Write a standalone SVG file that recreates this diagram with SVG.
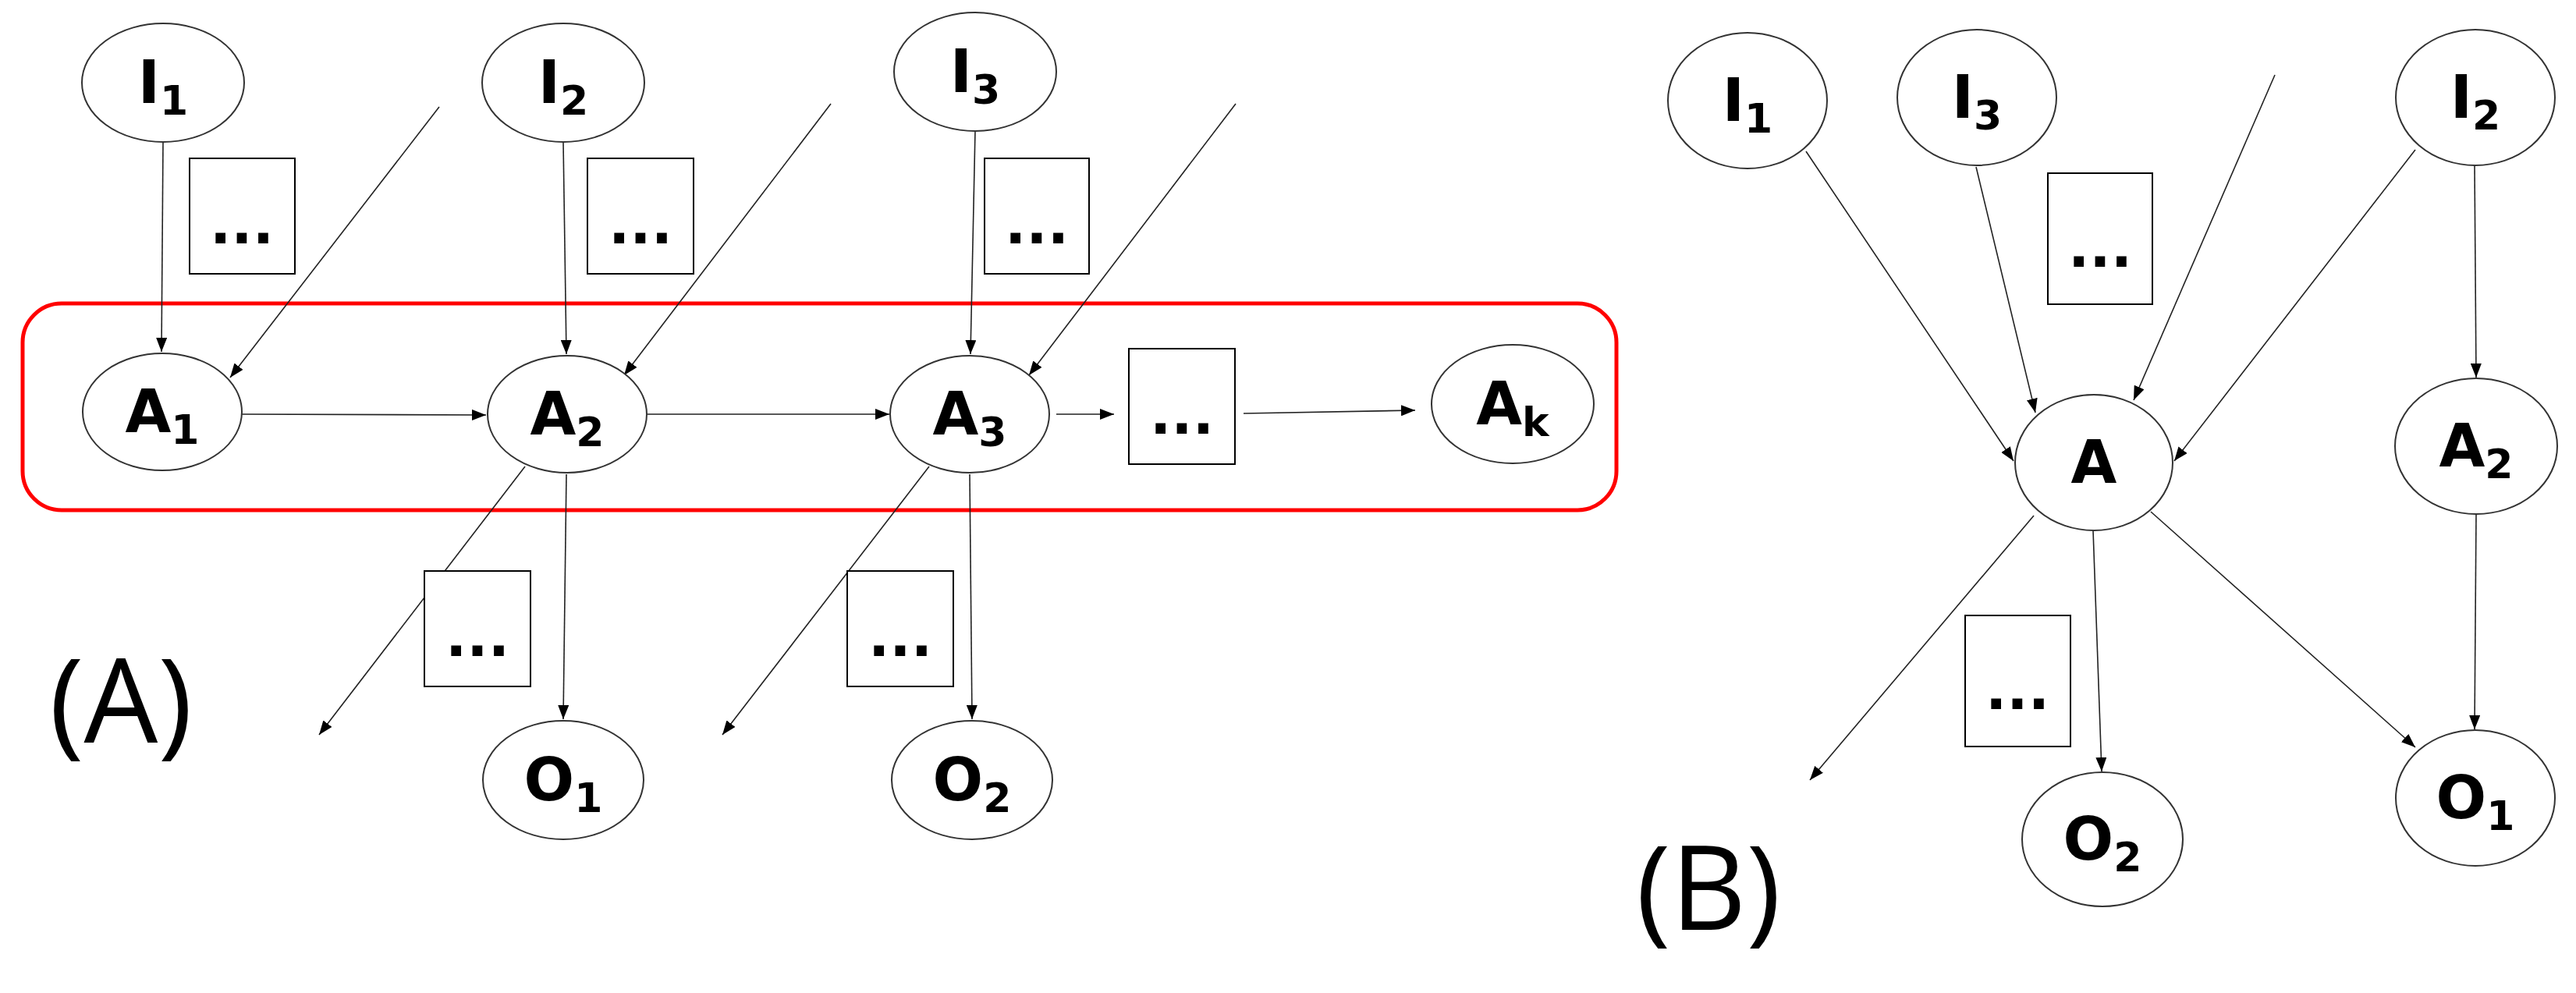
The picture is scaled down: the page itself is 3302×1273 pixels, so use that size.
<svg xmlns="http://www.w3.org/2000/svg" width="3302" height="1273" viewBox="0 0 3302 1273">
<style>
.n{fill:#fff;stroke:#333;stroke-width:2}
.b{fill:#fff;stroke:#000;stroke-width:2}
.t{font-family:"DejaVu Sans",sans-serif;font-weight:bold;font-size:76px;fill:#000}
.s{font-size:52px}
.d{font-family:"DejaVu Sans",sans-serif;font-weight:bold;font-size:72px;fill:#000}
.c line{stroke:#222;stroke-width:1.6;marker-end:url(#ah)}
.p{font-family:"Open Sans","DejaVu Sans",sans-serif;font-size:150px;fill:#000}
</style>
<defs>
<marker id="ah" markerUnits="userSpaceOnUse" markerWidth="20" markerHeight="14" refX="18" refY="7" orient="auto">
<path d="M0,0 L18,7 L0,14 z" fill="#000"/>
</marker>
</defs>
<rect x="29" y="389" width="2043" height="265" rx="50" fill="none" stroke="#f00" stroke-width="5"/>
<g class="c">
<line x1="209" y1="182" x2="207" y2="451"/>
<line x1="563" y1="137" x2="295" y2="484"/>
<line x1="722" y1="182" x2="726" y2="454"/>
<line x1="1065" y1="133" x2="800" y2="481"/>
<line x1="1250" y1="168" x2="1244" y2="454"/>
<line x1="1584" y1="133" x2="1319" y2="481"/>
<line x1="310" y1="531" x2="623" y2="532"/>
<line x1="829" y1="531" x2="1140" y2="531"/>
<line x1="1354" y1="531" x2="1428" y2="531"/>
<line x1="1594" y1="530" x2="1814" y2="526"/>
<line x1="726" y1="608" x2="722" y2="922"/>
<line x1="1243" y1="608" x2="1246" y2="922"/>
<line x1="673" y1="598" x2="409" y2="942"/>
<line x1="1191" y1="598" x2="926" y2="942"/>
<line x1="2315" y1="194" x2="2581" y2="591"/>
<line x1="2533" y1="214" x2="2609" y2="529"/>
<line x1="2916" y1="96" x2="2735" y2="513"/>
<line x1="3096" y1="192" x2="2787" y2="591"/>
<line x1="3172" y1="212" x2="3174" y2="484"/>
<line x1="3174" y1="659" x2="3172" y2="935"/>
<line x1="2683" y1="680" x2="2694" y2="989"/>
<line x1="2757" y1="656" x2="3096" y2="958"/>
<line x1="2607" y1="661" x2="2320" y2="1000"/>
</g>
<g id="boxes">
<rect class="b" x="243" y="203" width="135" height="148"/><text class="d" x="310" y="312" text-anchor="middle">...</text>
<rect class="b" x="753" y="203" width="136" height="148"/><text class="d" x="821" y="312" text-anchor="middle">...</text>
<rect class="b" x="1262" y="203" width="134" height="148"/><text class="d" x="1329" y="312" text-anchor="middle">...</text>
<rect class="b" x="1447" y="447" width="136" height="148"/><text class="d" x="1515" y="556" text-anchor="middle">...</text>
<rect class="b" x="544" y="732" width="136" height="148"/><text class="d" x="612" y="841" text-anchor="middle">...</text>
<rect class="b" x="1086" y="732" width="136" height="148"/><text class="d" x="1154" y="841" text-anchor="middle">...</text>
<rect class="b" x="2625" y="222" width="134" height="168"/><text class="d" x="2692" y="342" text-anchor="middle">...</text>
<rect class="b" x="2519" y="789" width="135" height="168"/><text class="d" x="2586" y="909" text-anchor="middle">...</text>
</g>
<g id="A_I1"><ellipse class="n" cx="209" cy="106" rx="104" ry="76"/><text class="t" x="209" y="132" text-anchor="middle">I<tspan class="s" dy="15">1</tspan></text></g>
<g id="A_I2"><ellipse class="n" cx="722" cy="106" rx="104" ry="76"/><text class="t" x="722" y="132" text-anchor="middle">I<tspan class="s" dy="15">2</tspan></text></g>
<g id="A_I3"><ellipse class="n" cx="1250" cy="92" rx="104" ry="76"/><text class="t" x="1250" y="118" text-anchor="middle">I<tspan class="s" dy="15">3</tspan></text></g>
<g id="A_A1"><ellipse class="n" cx="208" cy="528" rx="102" ry="75"/><text class="t" x="208" y="554" text-anchor="middle">A<tspan class="s" dy="15">1</tspan></text></g>
<g id="A_A2"><ellipse class="n" cx="727" cy="531" rx="102" ry="75"/><text class="t" x="727" y="557" text-anchor="middle">A<tspan class="s" dy="15">2</tspan></text></g>
<g id="A_A3"><ellipse class="n" cx="1243" cy="531" rx="102" ry="75"/><text class="t" x="1243" y="557" text-anchor="middle">A<tspan class="s" dy="15">3</tspan></text></g>
<g id="A_Ak"><ellipse class="n" cx="1939" cy="518" rx="104" ry="76"/><text class="t" x="1939" y="544" text-anchor="middle">A<tspan class="s" dy="15">k</tspan></text></g>
<g id="A_O1"><ellipse class="n" cx="722" cy="1000" rx="103" ry="76"/><text class="t" x="722" y="1026" text-anchor="middle">O<tspan class="s" dy="15">1</tspan></text></g>
<g id="A_O2"><ellipse class="n" cx="1246" cy="1000" rx="103" ry="76"/><text class="t" x="1246" y="1026" text-anchor="middle">O<tspan class="s" dy="15">2</tspan></text></g>
<g id="B_I1"><ellipse class="n" cx="2240" cy="129" rx="102" ry="87"/><text class="t" x="2240" y="155" text-anchor="middle">I<tspan class="s" dy="15">1</tspan></text></g>
<g id="B_I3"><ellipse class="n" cx="2534" cy="125" rx="102" ry="87"/><text class="t" x="2534" y="151" text-anchor="middle">I<tspan class="s" dy="15">3</tspan></text></g>
<g id="B_I2"><ellipse class="n" cx="3173" cy="125" rx="102" ry="87"/><text class="t" x="3173" y="151" text-anchor="middle">I<tspan class="s" dy="15">2</tspan></text></g>
<g id="B_A"><ellipse class="n" cx="2684" cy="593" rx="101" ry="87"/><text class="t" x="2684" y="619" text-anchor="middle">A</text></g>
<g id="B_A2"><ellipse class="n" cx="3174" cy="572" rx="104" ry="87"/><text class="t" x="3174" y="598" text-anchor="middle">A<tspan class="s" dy="15">2</tspan></text></g>
<g id="B_O2"><ellipse class="n" cx="2695" cy="1076" rx="103" ry="86"/><text class="t" x="2695" y="1102" text-anchor="middle">O<tspan class="s" dy="15">2</tspan></text></g>
<g id="B_O1"><ellipse class="n" cx="3173" cy="1023" rx="102" ry="87"/><text class="t" x="3173" y="1049" text-anchor="middle">O<tspan class="s" dy="15">1</tspan></text></g>
<text class="p" x="155" y="952" text-anchor="middle">(A)</text>
<text class="p" x="2190" y="1192" text-anchor="middle">(B)</text>
</svg>
